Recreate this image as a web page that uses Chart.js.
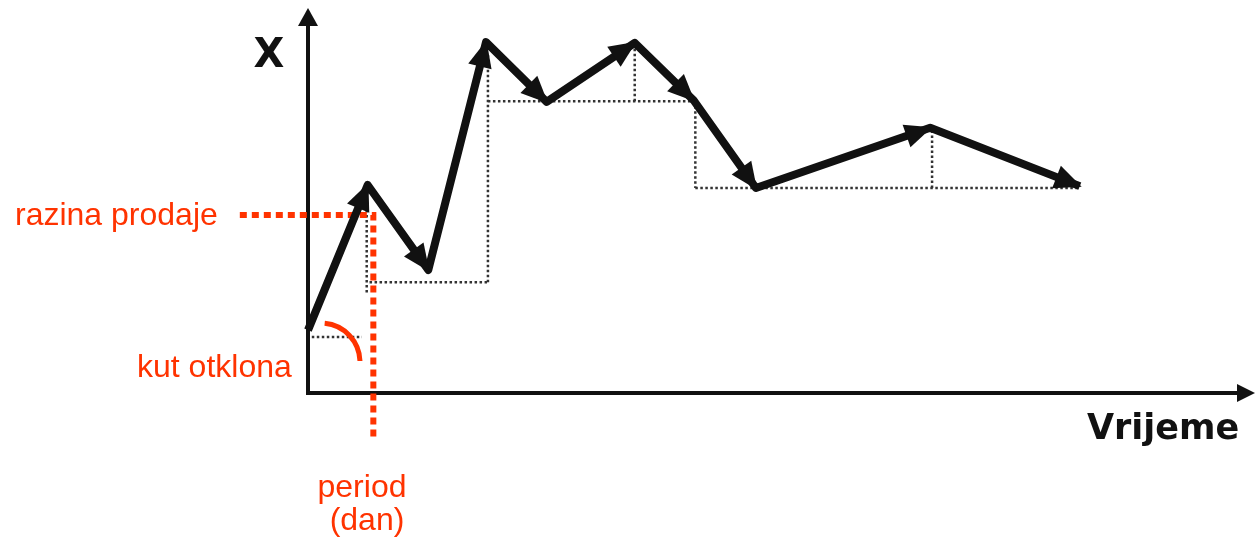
<!DOCTYPE html>
<html>
<head>
<meta charset="utf-8">
<script src="https://cdn.jsdelivr.net/npm/chart.js@4.4.1/dist/chart.umd.min.js"></script>
<style>
  html, body { margin: 0; padding: 0; background: #fff; }
  #wrap { width: 1255px; height: 545px; }
</style>
</head>
<body>
<div id="wrap"><canvas id="c" width="1255" height="545"></canvas></div>
<script>
// zigzag of sales level over time (arbitrary units 0..100)
const periods = [0, 6.3, 12.7, 18.8, 25.2, 34.5, 40.7, 47.3, 65.7, 81.5]
const sales = [16.5, 54.6, 32.3, 92.1, 76.4, 91.9, 76.9, 53.8, 69.6, 54.3]

// dotted step guides, null separates pieces
const stepX = [0.4, 5.7, null, 6.2, 6.2, null, 6.5, 19.0, null, 19.0, 19.0, null,
  19.0, 40.7, null, 34.5, 34.5, null, 40.9, 40.9, null, 40.9, 81.5, null, 65.9, 65.9]
const stepY = [14.7, 14.7, null, 53.3, 25.7, null, 29.1, 29.1, null, 29.1, 88.7, null,
  76.6, 76.6, null, 76.6, 90.6, null, 76.6, 53.8, null, 53.8, 53.8, null, 53.8, 69.0]

// red guide for "razina prodaje" / "period (dan)"
const guideX = [-7.2, 6.9, 6.9]
const guideY = [46.7, 46.7, -11.5]

const labels = {
  yAxis: 'X',
  xAxis: 'Vrijeme',
  level: 'razina prodaje',
  angle: 'kut otklona',
  period: ['period', '(dan)']
}

const RED = '#ff3300'

const toPoints = (xs, ys) => xs.map((x, i) => (x === null ? { x: null, y: null } : { x, y: ys[i] }))

function arrowHead(ctx, x0, y0, x1, y1, len, half) {
  const a = Math.atan2(y1 - y0, x1 - x0)
  const tx = x1 + Math.cos(a) * 2
  const ty = y1 + Math.sin(a) * 2
  const bx = tx - Math.cos(a) * len
  const by = ty - Math.sin(a) * len
  ctx.beginPath()
  ctx.moveTo(tx, ty)
  ctx.lineTo(bx + Math.sin(a) * half, by - Math.cos(a) * half)
  ctx.lineTo(bx - Math.sin(a) * half, by + Math.cos(a) * half)
  ctx.closePath()
  ctx.fill()
}

const decor = {
  id: 'decor',
  beforeDatasetsDraw(chart) {
    const { ctx, chartArea: ca } = chart
    ctx.save()
    ctx.strokeStyle = '#111'
    ctx.fillStyle = '#111'
    ctx.lineWidth = 4
    ctx.beginPath()
    ctx.moveTo(ca.left, ca.top + 10)
    ctx.lineTo(ca.left, ca.bottom)
    ctx.lineTo(ca.right - 10, ca.bottom)
    ctx.stroke()
    arrowHead(ctx, ca.left, ca.bottom, ca.left, ca.top - 2, 18, 10)
    arrowHead(ctx, ca.left, ca.bottom, ca.right - 2, ca.bottom, 18, 9)

    ctx.font = 'bold 40px "DejaVu Sans"'
    ctx.textAlign = 'center'
    ctx.textBaseline = 'alphabetic'
    ctx.fillText(labels.yAxis, 269, 67)
    ctx.font = 'bold 35px "DejaVu Sans"'
    ctx.textAlign = 'left'
    ctx.fillText(labels.xAxis, 1087, 439)
    ctx.restore()
  },
  afterDatasetsDraw(chart) {
    const { ctx } = chart
    const xs = chart.scales.x
    const ys = chart.scales.y
    const pts = chart.getDatasetMeta(0).data
    ctx.save()
    ctx.fillStyle = '#111'
    for (let i = 1; i < pts.length; i++) {
      arrowHead(ctx, pts[i - 1].x, pts[i - 1].y, pts[i].x, pts[i].y, 27, 12)
    }

    // angle arc near the start point
    const cx = xs.getPixelForValue(periods[0]) + 13
    const cy = ys.getPixelForValue(sales[0]) + 32
    ctx.strokeStyle = RED
    ctx.lineWidth = 5
    ctx.beginPath()
    ctx.arc(cx, cy, 39, -Math.PI * 0.47, -0.03)
    ctx.stroke()

    ctx.fillStyle = RED
    ctx.font = '32px "Liberation Sans", Arial, sans-serif'
    ctx.textAlign = 'left'
    ctx.fillText(labels.level, 15, 225)
    ctx.fillText(labels.angle, 137, 377)
    ctx.textAlign = 'center'
    ctx.fillText(labels.period[0], 362, 497)
    ctx.fillText(labels.period[1], 367, 530)
    ctx.restore()
  }
}

new Chart(document.getElementById('c'), {
  type: 'line',
  data: {
    datasets: [
      {
        data: toPoints(periods, sales),
        borderColor: '#111',
        borderWidth: 8,
        borderJoinStyle: 'round',
        pointRadius: 0,
        tension: 0,
        clip: false,
        order: 0
      },
      {
        data: toPoints(stepX, stepY),
        borderColor: '#333',
        borderWidth: 2.5,
        borderDash: [2.5, 2.5],
        pointRadius: 0,
        spanGaps: false,
        clip: false,
        order: 2
      },
      {
        data: toPoints(guideX, guideY),
        borderColor: RED,
        borderWidth: 6,
        borderDash: [7, 5],
        pointRadius: 0,
        clip: false,
        order: 1
      }
    ]
  },
  options: {
    responsive: false,
    animation: false,
    layout: { padding: { left: 308, right: 0, top: 12, bottom: 152 } },
    scales: {
      x: { type: 'linear', min: 0, max: 100, display: false },
      y: { type: 'linear', min: 0, max: 100, display: false }
    },
    plugins: {
      legend: { display: false },
      tooltip: { enabled: false }
    }
  },
  plugins: [decor]
})
</script>
</body>
</html>
